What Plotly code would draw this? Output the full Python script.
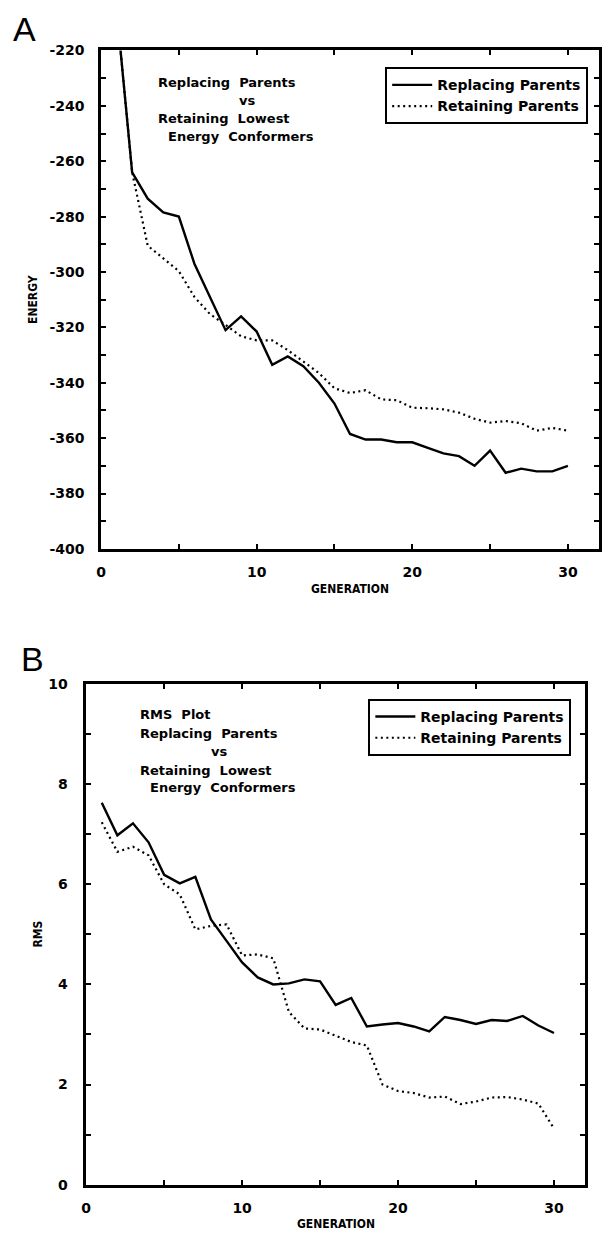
import plotly.graph_objects as go

# ---- data -------------------------------------------------------------
generation = list(range(1, 31))

energy_replacing = [-205, -264, -273.5, -278.5, -280, -297, -309, -321, -316, -321.5,
                    -333.5, -330.5, -334, -340, -347.5, -358.5, -360.5, -360.5, -361.5, -361.5,
                    -363.5, -365.5, -366.5, -370, -364.5, -372.5, -371, -372, -372, -370]
energy_retaining = [-205, -264, -290.5, -295, -299.7, -309, -315.2, -319.1, -323.2, -324.7,
                    -324.7, -328.2, -332.3, -336.5, -342, -343.7, -342.7, -346, -346.3, -349,
                    -349.2, -349.6, -350.8, -353, -354.4, -353.8, -354.6, -357.3, -356.3, -357.3]

rms_replacing = [7.63, 6.98, 7.22, 6.84, 6.19, 6.02, 6.15, 5.3, 4.87, 4.44,
                 4.14, 4.0, 4.02, 4.1, 4.06, 3.59, 3.73, 3.16, 3.2, 3.23,
                 3.16, 3.06, 3.35, 3.29, 3.21, 3.29, 3.27, 3.37, 3.18, 3.03]
rms_retaining = [7.24, 6.65, 6.75, 6.58, 6.0, 5.8, 5.1, 5.17, 5.2, 4.58,
                 4.6, 4.52, 3.45, 3.12, 3.1, 2.98, 2.85, 2.78, 2.0, 1.87,
                 1.83, 1.74, 1.76, 1.61, 1.66, 1.74, 1.75, 1.7, 1.62, 1.12]

x_ticks = [0, 5, 10, 15, 20, 25, 30]
x_labels = ["0", "", "10", "", "20", "", "30"]
energy_ticks = list(range(-400, -219, 10))
energy_labels = [str(v) if v % 20 == 0 else "" for v in energy_ticks]
rms_ticks = list(range(0, 11))
rms_labels = [str(v) if v % 2 == 0 else "" for v in rms_ticks]

series_names = ["Replacing Parents", "Retaining Parents"]

# ---- page geometry (pixels) -------------------------------------------
W, H = 602, 1240


def px(x):
    return x / W


def py(y):
    return 1 - y / H


TICK_FONT = dict(family="DejaVu Sans", size=14, color="black", weight="bold")
TEXT_FONT = dict(family="DejaVu Sans", size=13, color="black", weight="bold")
LEG_FONT = dict(family="DejaVu Sans", size=14, color="black", weight="bold")
TITLE_FONT = dict(family="DejaVu Sans Condensed", size=12, color="black", weight="bold")

solid = dict(color="black", width=2.4)
dotted = dict(color="black", width=2.2, dash="2px,3.5px")

fig = go.Figure()

fig.add_trace(go.Scatter(x=generation, y=energy_replacing, mode="lines", line=solid,
                         name=series_names[0], xaxis="x", yaxis="y", legend="legend"))
fig.add_trace(go.Scatter(x=generation, y=energy_retaining, mode="lines", line=dotted,
                         name=series_names[1], xaxis="x", yaxis="y", legend="legend"))
fig.add_trace(go.Scatter(x=generation, y=rms_replacing, mode="lines", line=solid,
                         name=series_names[0], xaxis="x2", yaxis="y2", legend="legend2"))
fig.add_trace(go.Scatter(x=generation, y=rms_retaining, mode="lines", line=dotted,
                         name=series_names[1], xaxis="x2", yaxis="y2", legend="legend2"))

axis_common = dict(showline=True, linewidth=2.5, linecolor="black", mirror="ticks",
                   ticks="inside", ticklen=5, tickwidth=2, tickcolor="black",
                   showgrid=False, zeroline=False, tickfont=TICK_FONT, tickmode="array")

fig.update_layout(
    width=W, height=H,
    margin=dict(l=0, r=0, t=0, b=0),
    paper_bgcolor="white", plot_bgcolor="white",
    showlegend=True,
    xaxis=dict(axis_common, domain=[px(97), px(600)], anchor="y", range=[0, 32],
               tickvals=x_ticks, ticktext=x_labels, ticklabelstandoff=9),
    yaxis=dict(axis_common, domain=[py(548), py(43)], anchor="x", range=[-400, -220],
               tickvals=energy_ticks, ticktext=energy_labels, ticklabelstandoff=11),
    xaxis2=dict(axis_common, domain=[px(82), px(586)], anchor="y2", range=[0, 32],
                tickvals=x_ticks, ticktext=x_labels, ticklabelstandoff=9),
    yaxis2=dict(axis_common, domain=[py(1192), py(685)], anchor="x2", range=[0, 10],
                tickvals=rms_ticks, ticktext=rms_labels, ticklabelstandoff=13),
    legend=dict(x=px(384), y=py(60), xanchor="left", yanchor="top",
                bordercolor="black", borderwidth=2, bgcolor="white",
                font=LEG_FONT, tracegroupgap=0, itemwidth=40),
    legend2=dict(x=px(367), y=py(700), xanchor="left", yanchor="top",
                 bordercolor="black", borderwidth=2, bgcolor="white",
                 font=LEG_FONT, tracegroupgap=0, itemwidth=40),
)

annotations = []


def add_text(text, x, y, font, xanchor="left", angle=0):
    annotations.append(dict(text=text, x=px(x), y=py(y), xref="paper", yref="paper",
                            xanchor=xanchor, yanchor="middle", showarrow=False,
                            font=font, textangle=angle))


# panel letters
add_text("A", 6, 21, dict(family="Liberation Sans", size=34, color="black"))
add_text("B", 14, 660, dict(family="Liberation Sans", size=34, color="black"))

# axis titles
add_text("ENERGY", 28, 295, TITLE_FONT, xanchor="center", angle=-90)
add_text("GENERATION", 348, 589, TITLE_FONT, xanchor="center")
add_text("RMS", 33, 938, TITLE_FONT, xanchor="center", angle=-90)
add_text("GENERATION", 334, 1232, TITLE_FONT, xanchor="center")

# in-plot notes, panel A
add_text("Replacing  Parents", 153, 75, TEXT_FONT)
add_text("vs", 234, 94, TEXT_FONT)
add_text("Retaining  Lowest", 153, 112, TEXT_FONT)
add_text("Energy  Conformers", 163, 130, TEXT_FONT)

# in-plot notes, panel B
add_text("RMS  Plot", 134, 716, TEXT_FONT)
add_text("Replacing  Parents", 134, 735, TEXT_FONT)
add_text("vs", 206, 753, TEXT_FONT)
add_text("Retaining  Lowest", 134, 772, TEXT_FONT)
add_text("Energy  Conformers", 144, 790, TEXT_FONT)

fig.update_layout(annotations=annotations)

fig.write_html("out.html")
